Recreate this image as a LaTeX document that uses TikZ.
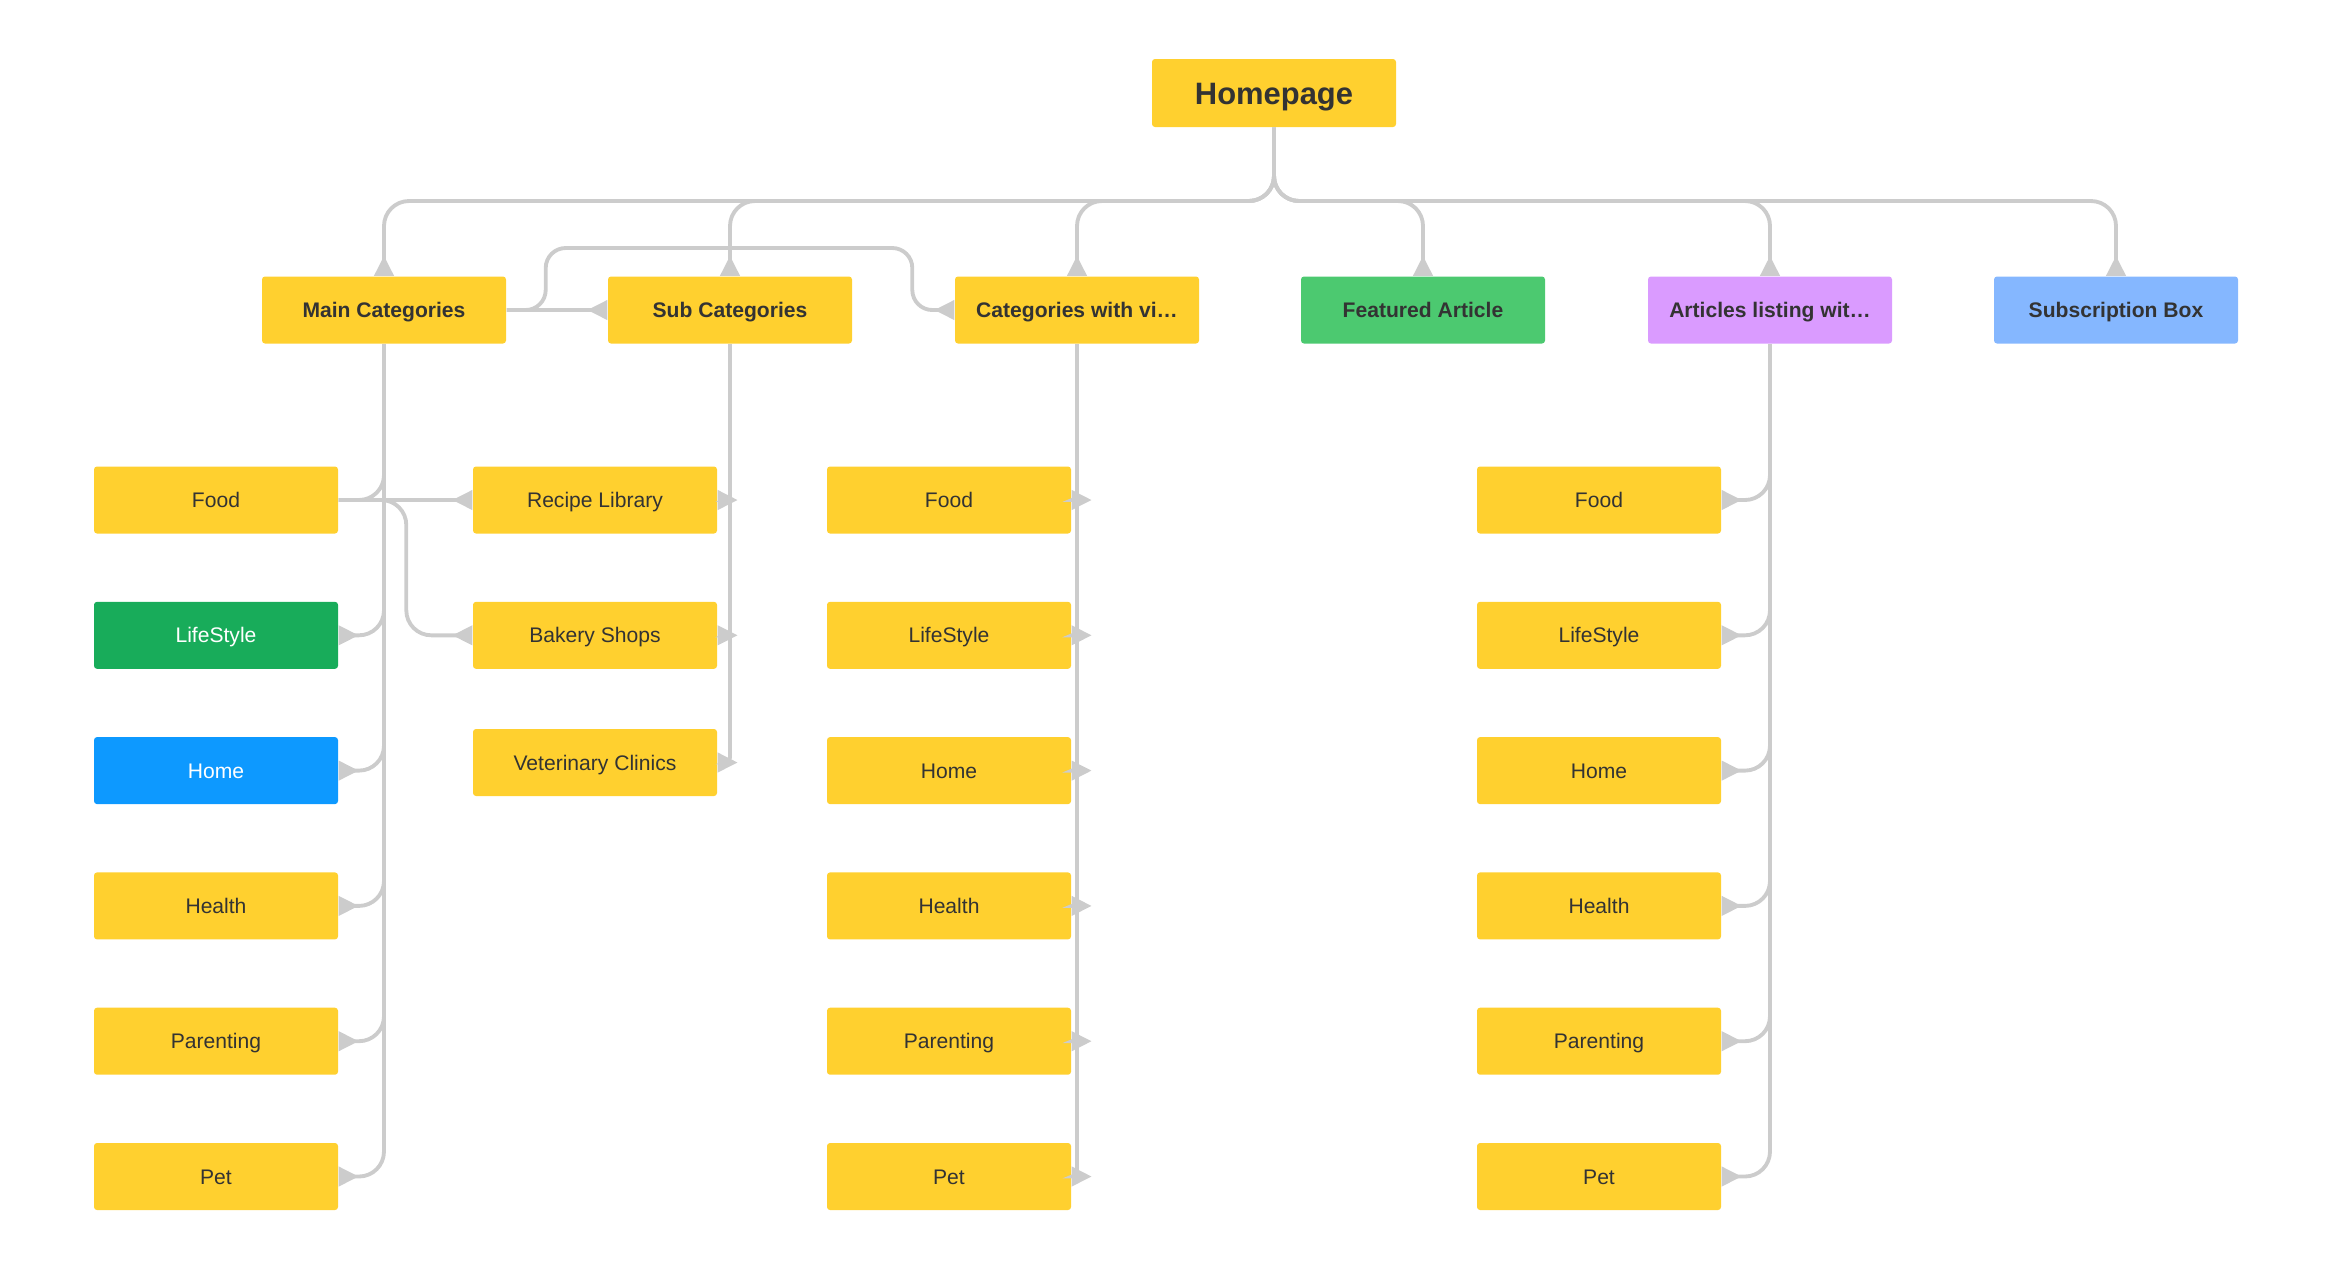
\documentclass[tikz,border=0pt]{standalone}
\usepackage{fontspec}
\setmainfont{Liberation Sans}
\usetikzlibrary{arrows.meta, positioning, calc}

\definecolor{ink}{RGB}{51,51,51}
\definecolor{linegray}{RGB}{204,204,204}
\definecolor{ylw}{RGB}{255,208,47}
\definecolor{dgreen}{RGB}{24,172,90}
\definecolor{hblue}{RGB}{13,153,255}
\definecolor{fgreen}{RGB}{76,201,112}
\definecolor{lilac}{RGB}{218,155,255}
\definecolor{sky}{RGB}{133,183,255}

\begin{document}
\begin{tikzpicture}[
    conn/.style={draw=linegray, line width=1.1pt, rounded corners=0.25cm},
    tight/.style={conn, rounded corners=0.05cm},
    arr/.style={-{Triangle[reversed, length=0.2cm, width=0.19cm]}},
    box/.style={rectangle, rounded corners=0.03cm, minimum width=2.44cm, minimum height=0.67cm,
        inner sep=0pt, text height=4.3pt, text depth=0pt, fill=ylw, text=ink,
        font=\fontsize{6}{7}\selectfont},
    hbox/.style={box, font=\fontsize{6}{7}\selectfont\bfseries},
]
\useasboundingbox (0,0) rectangle (23.32,-12.72);
% === Top ===
\node[box, minimum height=0.68cm, text height=6.3pt, font=\fontsize{8.8}{10}\selectfont\bfseries] (home) at (12.74,-0.93) {Homepage};
% === Second row ===
\foreach \n/\x/\c/\t in {mc/3.84/ylw/Main Categories, sc/7.30/ylw/Sub Categories,
    cv/10.77/ylw/Categories with vi…, fa/14.23/fgreen/Featured Article,
    al/17.70/lilac/Articles listing wit…, sb/21.16/sky/Subscription Box} {
    \node[hbox, fill=\c] (\n) at (\x,-3.10) {\t};
}
% === Children ===
\foreach \i/\t/\c/\f in {1/Food/ylw/ink, 2/LifeStyle/dgreen/white, 3/Home/hblue/white,
    4/Health/ylw/ink, 5/Parenting/ylw/ink, 6/Pet/ylw/ink} {
    \node[box, fill=\c, text=\f] (a\i) at (2.16,{-5.00-1.353*(\i-1)}) {\t};
}
\node[box] (rl) at (5.95,-5.00) {Recipe Library};
\node[box] (bs) at (5.95,-6.353) {Bakery Shops};
\node[box] (vc) at (5.95,-7.625) {Veterinary Clinics};
\foreach \i/\t in {1/Food, 2/LifeStyle, 3/Home, 4/Health, 5/Parenting, 6/Pet} {
    \node[box] (c\i) at (9.49,{-5.00-1.353*(\i-1)}) {\t};
    \node[box] (l\i) at (15.99,{-5.00-1.353*(\i-1)}) {\t};
}
% === Connectors ===
\coordinate (bus) at (12.74,-2.01);
\foreach \n in {mc,sc,cv,fa,al,sb}
    \draw[conn, arr] (home.south) -- (bus) -| (\n.north);
\draw[conn, arr] (mc.east) -- (sc.west);
\draw[conn, arr, rounded corners=0.2cm] (mc.east) -- ++(0.39,0) |- ($(cv.west)+(-0.42,0.62)$)
    -- ($(cv.west)+(-0.42,0)$) -- (cv.west);
%
\draw[conn] (mc.south) |- (a1.east);
\foreach \i in {2,...,6}
    \draw[conn, arr] (mc.south) |- (a\i.east);
\draw[conn, arr] (a1.east) -- (rl.west);
\draw[conn, arr] (a1.east) -| ($(bs.west)+(-0.66,0)$) -- (bs.west);
%
\foreach \n in {rl,bs,vc}
    \draw[tight, arr] (sc.south) |- (\n.east);
\foreach \i in {1,...,6} {
    \draw[tight, arr] (cv.south) |- (c\i.east);
    \draw[conn, arr] (al.south) |- (l\i.east);
}
\end{tikzpicture}
\end{document}
